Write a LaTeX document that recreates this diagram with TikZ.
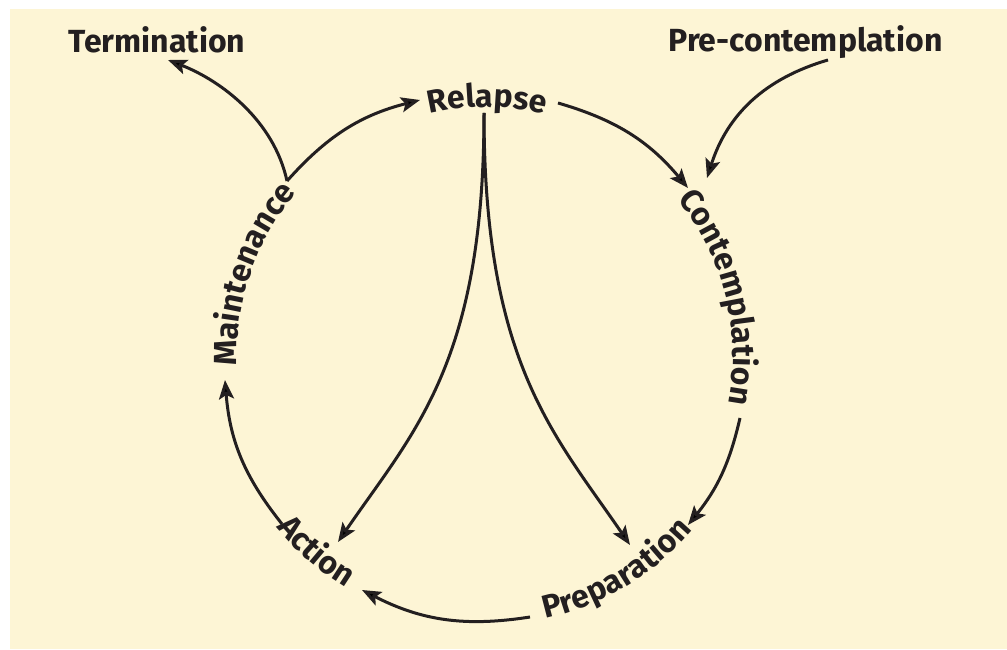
\documentclass[tikz,border=0pt]{standalone}
\usepackage{fontspec}
\setmainfont{Fira Sans}
\usetikzlibrary{arrows.meta,decorations.text}
\definecolor{bg}{RGB}{253,245,213}
\definecolor{ink}{RGB}{35,31,32}
\newcommand\ctfont{\bfseries\fontsize{32}{38}\selectfont}
\begin{document}
\begin{tikzpicture}[x=1pt,y=1pt,
  conn/.style={draw=ink, line width=3pt, -{Stealth[length=19pt,width=15pt,inset=4pt]}},
  lbl/.style={font=\ctfont, text=ink, inner sep=0pt},
  ctext/.style={decorate, decoration={text along path, text align=center, text color=ink, text={|\ctfont|#1}}}
  ]
\useasboundingbox (0,0) rectangle (1007,649);
\fill[bg] (10,0) rectangle (1007,640);
\coordinate (C) at (487,294);

% straight labels
\node[lbl, anchor=base] (term) at (157,596) {Termination};
\node[lbl, anchor=base] (pre) at (805.5,597) {Pre-contemplation};

% curved labels
\path[ctext=Relapse] ([shift={(130:248)}]C) arc[start angle=130, end angle=50, radius=248];
\path[ctext=Contemplation] ([shift={(59:246)}]C) arc[start angle=59, end angle=-31, radius=246];
\path[ctext=Maintenance] ([shift={(206:250)}]C) arc[start angle=206, end angle=116, radius=250];
\path[ctext=Preparation] ([shift={(-104:270)}]C) arc[start angle=-104, end angle=-14, radius=270];
\path[ctext=Action] ([shift={(-171:272)}]C) arc[start angle=-171, end angle=-91, radius=272];

% connector end points
\coordinate (vtip) at (287,468);
\coordinate (termIn) at (168,589);
\coordinate (relIn) at (420,549);
\coordinate (relOut) at (558,546);
\coordinate (conIn) at (688,461);
\coordinate (preOut) at (828,589);
\coordinate (conIn2) at (707,471);
\coordinate (conOut) at (740,231);
\coordinate (prepIn) at (688,124);
\coordinate (prepOut) at (530,32);
\coordinate (actIn) at (362,59);
\coordinate (actOut) at (282,125);
\coordinate (mainIn) at (225,269);
\coordinate (relBot) at (484,536);
\coordinate (actIn2) at (338,107);
\coordinate (prepIn2) at (630,104);

% connectors
\draw[conn] (vtip) .. controls (274,528) and (222,568) .. (termIn);
\draw[conn] (vtip) to[bend left=17] (relIn);
\draw[conn] (relOut) to[bend left=17] (conIn);
\draw[conn] (preOut) to[bend right=28] (conIn2);
\draw[conn] (conOut) to[bend left=13] (prepIn);
\draw[conn] (prepOut) to[bend left=18] (actIn);
\draw[conn] (actOut) to[bend left=17] (mainIn);
\draw[conn] (relBot) .. controls +(0,-250) and +(76,111) .. (actIn2);
\draw[conn] (relBot) .. controls +(0,-250) and +(-76,111) .. (prepIn2);
\end{tikzpicture}
\end{document}
